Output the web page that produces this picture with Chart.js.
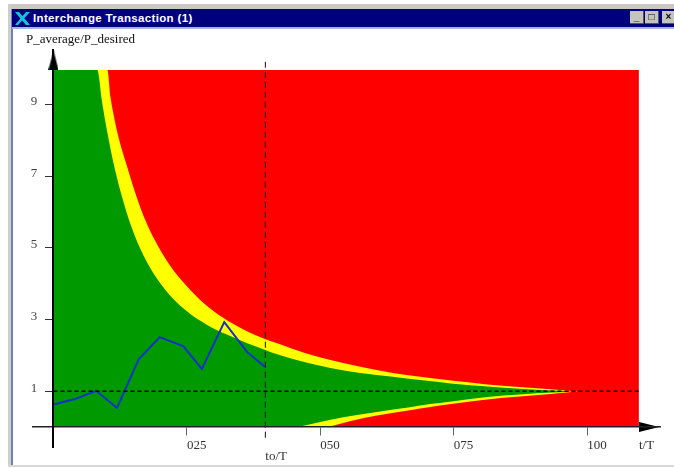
<!DOCTYPE html>
<html>
<head>
<meta charset="utf-8">
<script src="https://cdn.jsdelivr.net/npm/chart.js@4"></script>
<style>
html,body{margin:0;padding:0;background:#fff;width:674px;height:468px;overflow:hidden}
#wrap{position:relative;width:674px;height:468px;overflow:hidden;filter:blur(0.4px)}
.abs{position:absolute}
#band{left:8px;top:4px;width:666px;height:5px;background:#c9c9c1}
#lbord{left:8px;top:4px;width:3px;height:462px;background:#cfcfc9}
#lblue{left:11px;top:9px;width:2px;height:457px;background:#6f7fc4}
#bot{left:8px;top:465px;width:666px;height:2px;background:#d8d8d4}
#bar{left:12px;top:9px;width:662px;height:18px;background:#00007f}
#barline{left:12px;top:27px;width:662px;height:2px;background:#a9b4de}
#ttl{left:33px;top:10px;color:#fff;font:bold 11.5px "Liberation Sans",sans-serif;line-height:16px;letter-spacing:.35px;white-space:nowrap}
#ico{left:15px;top:12px;width:15px;height:13px}
.btn{top:11px;width:14px;height:13px;background:#c4c4bc;border-right:1px solid #555;border-bottom:1px solid #555;box-sizing:border-box;color:#000;font:bold 10px "Liberation Sans",sans-serif;line-height:11px;text-align:center}
#cv{position:absolute;left:0;top:0}
#ylab{left:26px;top:31px;font:13px "Liberation Serif",serif;line-height:15px;color:#111;white-space:nowrap}
</style>
</head>
<body>
<div id="wrap">
  <div class="abs" id="band"></div>
  <div class="abs" id="lbord"></div>
  <div class="abs" id="lblue"></div>
  <div class="abs" id="bot"></div>
  <div class="abs" id="bar"></div>
  <div class="abs" id="barline"></div>
  <svg class="abs" id="ico" viewBox="0 0 15 13"><path d="M0 0L4 0L15 13L11 13Z" fill="#19c3d8"/><path d="M15 0L11 0L0 13L3 13Z" fill="#19c3d8"/></svg>
  <div class="abs" id="ttl">Interchange Transaction (1)</div>
  <div class="abs btn" style="left:630px">_</div>
  <div class="abs btn" style="left:645px">□</div>
  <div class="abs btn" style="left:662px;width:14px">×</div>
  <canvas id="cv" width="674" height="468"></canvas>
  <div class="abs" id="ylab">P_average/P_desired</div>
</div>
<script>
// Axis content
const xTickValues = [0.25, 0.397, 0.50, 0.75, 1.00, 1.097];
const xTickLabels = ["025", ["", "to/T"], "050", "075", "100", "t/T"];
const yTickValues = [1, 3, 5, 7, 9];
const yTickLabels = ["1", "3", "5", "7", "9"];

// Measured series
const tMeasured = [0, .040, .080, .119, .160, .199, .243, .278, .320, .363, .396];
const pMeasured = [.63, .78, 1.01, .53, 1.90, 2.51, 2.26, 1.62, 2.93, 2.09, 1.68];

// Upper yellow / red boundary
const tUpperOuter = [0, .101, .107, .115, .124, .137, .153, .168, .187, .218, .250, .280, .318, .355, .396, .419, .468, .519, .575, .636, .687, .749, .813, .906, .981];
const pUpperOuter = [9.97, 9.97, 9.20, 8.55, 7.97, 7.32, 6.55, 5.92, 5.30, 4.52, 3.93, 3.48, 3.05, 2.73, 2.46, 2.34, 2.08, 1.87, 1.68, 1.51, 1.40, 1.29, 1.19, 1.08, .99];

// Upper green / yellow boundary
const tUpperInner = [0, .082, .091, .100, .112, .128, .143, .162, .187, .218, .250, .288, .325, .363, .396, .419, .468, .519, .575, .636, .687, .749, .813, .874, .936, .981];
const pUpperInner = [9.97, 9.97, 9.08, 8.30, 7.40, 6.45, 5.72, 5.00, 4.30, 3.68, 3.23, 2.85, 2.58, 2.34, 2.16, 2.03, 1.82, 1.65, 1.51, 1.40, 1.31, 1.21, 1.13, 1.07, 1.02, .99];

// Lower green / yellow boundary
const tLowerInner = [.458, .500, .543, .606, .668, .706, .749, .813, .874, .936, .981];
const pLowerInner = [0, .14, .27, .42, .55, .64, .72, .84, .91, .96, .99];

// Lower yellow / red boundary
const tLowerOuter = [.515, .557, .606, .668, .706, .749, .813, .874, .931, .981];
const pLowerOuter = [0, .17, .32, .47, .56, .65, .77, .85, .92, .99];

// Region and reference lines
const tRegion = [0, 1.097];
const pRegion = [9.97, 9.97];
const tRefH = [0, 1.097];
const pRefH = [1, 1];
const tRefV = [.397, .397];
const pRefV = [-.3, 10.3];
const tArrowX = [1.116];
const pArrowX = [0];
const tArrowY = [0];
const pArrowY = [10.25];

const pts = (xs, ys) => xs.map((x, i) => ({x, y: ys[i]}));

function arrow(w, h, pathFn) {
  const c = document.createElement('canvas');
  c.width = w; c.height = h;
  const g = c.getContext('2d');
  g.fillStyle = '#000';
  g.beginPath(); pathFn(g); g.closePath(); g.fill();
  return c;
}
const arrowRight = arrow(20, 10, g => { g.moveTo(0, 0); g.lineTo(20, 5); g.lineTo(0, 10); });
const arrowUp = arrow(10, 20, g => { g.moveTo(0, 20); g.lineTo(5, 0); g.lineTo(10, 20); });

const area = (xs, ys, color) => ({
  data: pts(xs, ys), borderWidth: 0, pointRadius: 0, cubicInterpolationMode: 'monotone',
  backgroundColor: color, fill: {value: 0}, clip: false
});
const line = (xs, ys, color, w, dash) => ({
  data: pts(xs, ys), borderColor: color, borderWidth: w, borderDash: dash || [],
  pointRadius: 0, tension: 0, fill: false, clip: false
});
const mark = (xs, ys, img) => ({
  data: pts(xs, ys), pointStyle: img, pointRadius: 10, showLine: false, clip: false
});

const tickPad = '\u00A0'.repeat(5);

new Chart(document.getElementById('cv'), {
  type: 'line',
  data: {
    datasets: [
      mark(tArrowX, pArrowX, arrowRight),
      mark(tArrowY, pArrowY, arrowUp),
      line(tRefH, pRefH, '#000', 1.5, [4, 3]),
      line(tRefV, pRefV, '#111', 1, [6, 4]),
      line(tMeasured, pMeasured, '#1030d0', 2),
      area(tLowerOuter, pLowerOuter, '#ff0000'),
      area(tLowerInner, pLowerInner, '#ffff00'),
      area(tUpperInner, pUpperInner, '#009900'),
      area(tUpperOuter, pUpperOuter, '#ffff00'),
      area(tRegion, pRegion, '#ff0000')
    ]
  },
  options: {
    responsive: false,
    animation: false,
    events: [],
    layout: {padding: {left: 33, right: 14, top: 50, bottom: 21}},
    plugins: {legend: {display: false}, title: {display: false}, tooltip: {enabled: false}},
    scales: {
      x: {
        type: 'linear', min: -.0384, max: 1.1365,
        position: {y: 0},
        afterFit: s => { s.height = 0; },
        afterBuildTicks: s => { s.ticks = xTickValues.map(value => ({value})); },
        border: {color: '#222', width: 1.5, z: 1},
        grid: {drawOnChartArea: false, drawTicks: true, tickLength: 8, z: 1,
          tickColor: c => (c.index === 1 || c.index === 5) ? 'rgba(0,0,0,0)' : '#666'},
        ticks: {
          autoSkip: false, maxRotation: 0, align: 'start', padding: 5, z: 1,
          color: '#333', font: {family: '"Liberation Serif", serif', size: 13, lineHeight: '11px'},
          callback: (v, i) => xTickLabels[i]
        }
      },
      y: {
        type: 'linear', min: -.559, max: 10.53,
        position: {x: 0},
        afterFit: s => { s.width = 0; },
        afterBuildTicks: s => { s.ticks = yTickValues.map(value => ({value})); },
        border: {color: '#000', width: 2, z: 1},
        grid: {drawOnChartArea: false, drawTicks: true, tickLength: 7, tickColor: '#333', z: 1},
        ticks: {
          autoSkip: false, z: 1,
          color: '#444', font: {family: '"Liberation Serif", serif', size: 13, lineHeight: '6px'},
          callback: (v, i) => [yTickLabels[i] + tickPad, '']
        }
      }
    }
  }
});
</script>
</body>
</html>
